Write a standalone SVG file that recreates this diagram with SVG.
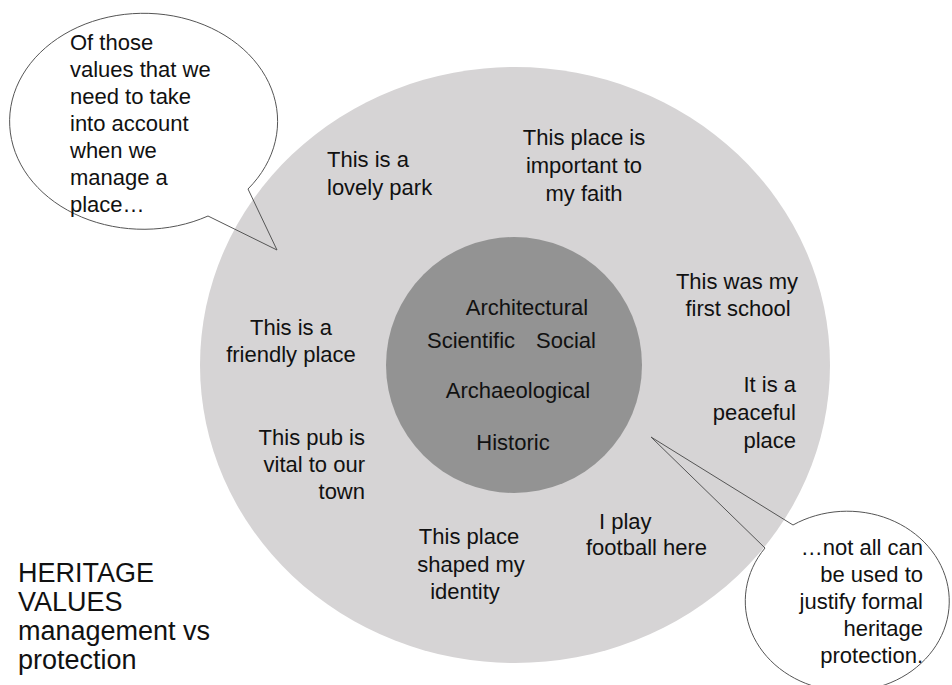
<svg xmlns="http://www.w3.org/2000/svg" width="952" height="685" viewBox="0 0 952 685">
<style>
text{font-family:"Liberation Sans",Arial,sans-serif;font-size:22px;fill:#111}
.c{text-anchor:middle}
.e{text-anchor:end}
.big{font-size:27px}
.bub{fill:none;stroke:#555;stroke-width:1}
</style>
<rect width="952" height="685" fill="#fff"/>
<g id="outer"><ellipse cx="515" cy="365" rx="315" ry="298" fill="#d6d4d5"/></g>
<g id="inner"><circle cx="514" cy="365" r="128" fill="#939393"/></g>
<g id="core-values">
<text class="c" x="527" y="315">Architectural</text>
<text x="427" y="348">Scientific</text>
<text x="536" y="348">Social</text>
<text class="c" x="518" y="398">Archaeological</text>
<text class="c" x="513" y="450">Historic</text>
</g>
<g id="park"><text x="327" y="167">This is a</text><text x="327" y="195">lovely park</text></g>
<g id="faith"><text class="c" x="584" y="145">This place is</text><text class="c" x="584" y="173">important to</text><text class="c" x="584" y="201">my faith</text></g>
<g id="school"><text class="c" x="737" y="289">This was my</text><text class="c" x="738" y="316">first school</text></g>
<g id="peaceful"><text class="e" x="796" y="392">It is a</text><text class="e" x="796" y="420">peaceful</text><text class="e" x="796" y="448">place</text></g>
<g id="friendly"><text class="c" x="291" y="335">This is a</text><text class="c" x="291" y="362">friendly place</text></g>
<g id="pub"><text class="e" x="365" y="445">This pub is</text><text class="e" x="365" y="472">vital to our</text><text class="e" x="365" y="499">town</text></g>
<g id="identity"><text class="c" x="469" y="544">This place</text><text class="c" x="471" y="572">shaped my</text><text class="c" x="465" y="599">identity</text></g>
<g id="football"><text x="599" y="529">I play</text><text x="586" y="555">football here</text></g>
<g id="bubble-left">
<ellipse cx="144" cy="121" rx="134" ry="108" fill="#fff"/>
<path class="bub" d="M248 189 L277 250 L208 216 A134 108 0 1 1 248 189"/>
<text x="70" y="50">Of those</text>
<text x="70" y="77">values that we</text>
<text x="70" y="104">need to take</text>
<text x="70" y="131">into account</text>
<text x="70" y="158">when we</text>
<text x="70" y="185">manage a</text>
<text x="70" y="212">place…</text>
</g>
<g id="bubble-right">
<ellipse cx="851" cy="597" rx="102" ry="90" fill="#fff"/>
<path class="bub" d="M765 548 L651 437 L793 525 A102 90 0 1 1 765 548"/>
<text class="e" x="923" y="555">…not all can</text>
<text class="e" x="923" y="582">be used to</text>
<text class="e" x="923" y="609">justify formal</text>
<text class="e" x="923" y="636">heritage</text>
<text class="e" x="923" y="663">protection.</text>
</g>
<g id="title">
<text class="big" x="18" y="582">HERITAGE</text>
<text class="big" x="18" y="611">VALUES</text>
<text class="big" x="18" y="640">management vs</text>
<text class="big" x="18" y="669">protection</text>
</g>
<g id="connectors"></g>
</svg>
